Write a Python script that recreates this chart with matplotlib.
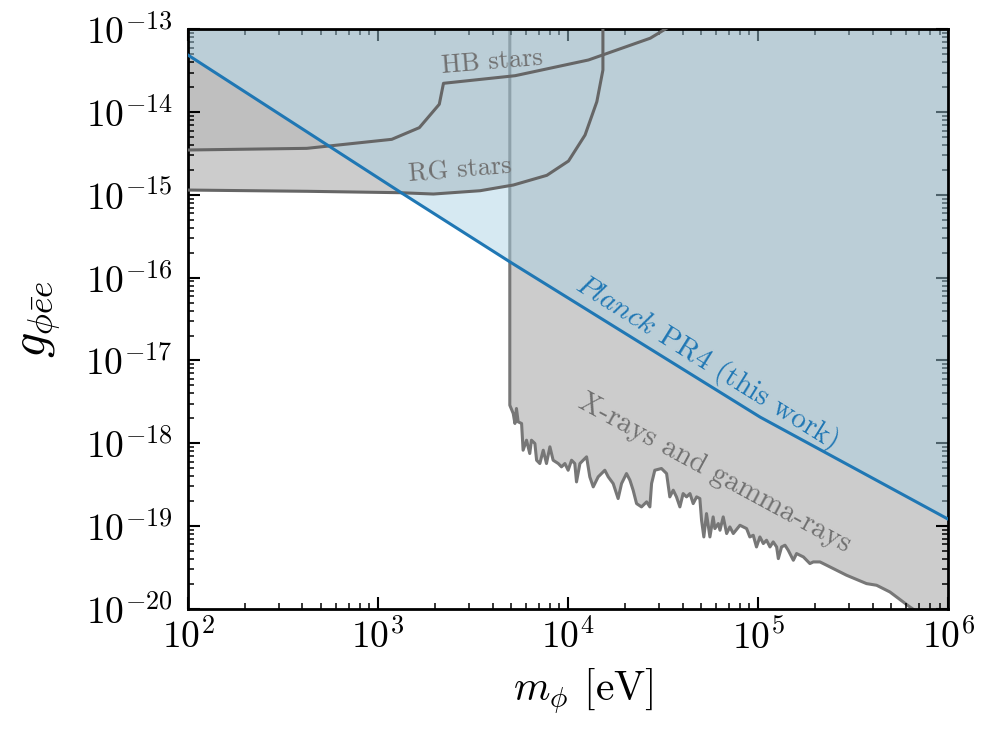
import numpy as np
import matplotlib
matplotlib.use('Agg')
import matplotlib.pyplot as plt
from matplotlib.ticker import LogLocator, NullFormatter

plt.rcParams['font.family'] = 'serif'
plt.rcParams['font.serif'] = ['cmr10']
plt.rcParams['mathtext.fontset'] = 'cm'
plt.rcParams['axes.formatter.use_mathtext'] = True

# all values are log10(m / eV) and log10(g)
planck_logm = [2.0, 3.116, 3.695, 5.011, 6.0]
planck_logg = [-13.31, -14.965, -15.811, -17.686, -18.919]

hb_logm = [2.0, 2.625, 3.072, 3.217, 3.322, 3.344, 3.721, 4.107, 4.432, 4.53]
hb_logg = [-14.457, -14.437, -14.328, -14.187, -13.904, -13.651, -13.559, -13.369, -13.106, -12.97]

rg_logm = [2.0, 2.625, 3.116, 3.291, 3.537, 3.712, 3.888, 4.002, 4.089, 4.151, 4.183, 4.183]
rg_logg = [-14.941, -14.956, -14.973, -14.989, -14.949, -14.880, -14.763, -14.590, -14.276, -13.873, -13.490, -12.9]

xray_logm = [3.693, 3.693, 3.711, 3.720, 3.728, 3.737, 3.755, 3.763, 3.781, 3.798, 3.807,
             3.825, 3.834, 3.851, 3.869, 3.886, 3.904, 3.921, 3.948, 3.965, 3.983,
             4.000, 4.018, 4.035, 4.044, 4.062, 4.079, 4.097, 4.114, 4.132, 4.158,
             4.193, 4.211, 4.237, 4.263, 4.281, 4.307, 4.325, 4.342, 4.360, 4.386,
             4.413, 4.430, 4.439, 4.456, 4.491, 4.518, 4.535, 4.553, 4.570, 4.588,
             4.605, 4.623, 4.641, 4.658, 4.676, 4.693, 4.702, 4.714, 4.728, 4.746,
             4.763, 4.772, 4.790, 4.799, 4.816, 4.834, 4.851, 4.869, 4.904, 4.939,
             4.956, 4.974, 4.991, 5.009, 5.027, 5.044, 5.062, 5.079, 5.097, 5.106,
             5.123, 5.141, 5.158, 5.176, 5.185, 5.202, 5.238, 5.272, 5.290, 5.325,
             5.360, 5.465, 5.570, 5.623, 5.693, 5.798, 6.0]
xray_logg = [-12.9, -17.541, -17.641, -17.762, -17.581, -17.742, -17.762, -18.085, -17.964, -18.125, -17.964,
             -18.004, -18.206, -18.246, -18.085, -18.246, -18.044, -18.206, -18.246, -18.286, -18.246,
             -18.327, -18.206, -18.246, -18.468, -18.246, -18.206, -18.165, -18.407, -18.528, -18.407,
             -18.327, -18.407, -18.488, -18.669, -18.488, -18.367, -18.447, -18.568, -18.730, -18.770,
             -18.709, -18.770, -18.488, -18.327, -18.306, -18.367, -18.649, -18.568, -18.649, -18.770,
             -18.609, -18.649, -18.609, -18.730, -18.649, -18.669, -18.931, -19.133, -18.851, -19.133,
             -18.891, -19.032, -18.971, -19.052, -18.891, -19.092, -19.012, -19.092, -18.992, -19.032,
             -19.133, -19.113, -19.254, -19.133, -19.213, -19.173, -19.254, -19.193, -19.254, -19.395,
             -19.254, -19.233, -19.294, -19.375, -19.415, -19.334, -19.375, -19.455, -19.435, -19.435,
             -19.475, -19.596, -19.697, -19.717, -19.798, -19.979, -20.3]

top = -12.5

pl_m, pl_g = 10**np.array(planck_logm), 10**np.array(planck_logg)
hb_m, hb_g = 10**np.array(hb_logm), 10**np.array(hb_logg)
rg_m, rg_g = 10**np.array(rg_logm), 10**np.array(rg_logg)
xr_m, xr_g = 10**np.array(xray_logm), 10**np.array(xray_logg)

fig, ax = plt.subplots(figsize=(9.95, 7.36), dpi=100)
fig.subplots_adjust(left=0.189, right=0.953, top=0.960, bottom=0.173)

grey = '#cccccc'
# excluded regions (grey)
ax.fill(np.r_[hb_m, hb_m[-1], hb_m[0]], np.r_[hb_g, 10**top, 10**top], color=grey, lw=0, zorder=1)
ax.fill(np.r_[rg_m, rg_m[0]], np.r_[rg_g, 10**top], color=grey, lw=0, zorder=1)
ax.fill(np.r_[xr_m, xr_m[-1]], np.r_[xr_g, 10**top], color=grey, lw=0, zorder=1)

# HB and RG overlap below the Planck line
grid = np.linspace(2.0, 3.3, 500)
hb_i = np.interp(grid, hb_logm, hb_logg)
pl_i = np.interp(grid, planck_logm, planck_logg)
ax.fill_between(10**grid, 10**hb_i, 10**pl_i, where=pl_i > hb_i, interpolate=True,
                color='#bfbfbf', lw=0, zorder=1.2)

ax.plot(xr_m, xr_g, color='#777777', lw=2.2, zorder=1.5)

# Planck bound
ax.fill_between(pl_m, pl_g, 10**top, color='#a8d2e4', alpha=0.47, lw=0, zorder=2)
ax.plot(hb_m, hb_g, color='#666666', lw=2.2, zorder=3)
ax.plot(rg_m, rg_g, color='#666666', lw=2.2, zorder=3)
ax.plot(pl_m, pl_g, color='#1f77b4', lw=2.2, zorder=4)

tc = '#707070'
ax.text(4.0e3, 4.05e-14, 'HB stars', color=tc, fontsize=19, rotation=4.7,
        ha='center', va='center', zorder=5)
ax.text(2.69e3, 2.0e-15, 'RG stars', color=tc, fontsize=19, rotation=4.6,
        ha='center', va='center', zorder=5)
ax.text(5.36e4, 9.5e-18, r'$\mathit{Planck}$ PR4 (this work)', color='#1f77b4', fontsize=21,
        rotation=-32, ha='center', va='center', zorder=5)
ax.text(5.9e4, 4.3e-19, 'X-rays and gamma-rays', color=tc, fontsize=21, rotation=-28.5,
        ha='center', va='center', zorder=5)

ax.set_xscale('log')
ax.set_yscale('log')
ax.set_xlim(1e2, 1e6)
ax.set_ylim(1e-20, 1e-13)

for axis in (ax.xaxis, ax.yaxis):
    axis.set_major_locator(LogLocator(base=10, numticks=20))
    axis.set_minor_locator(LogLocator(base=10, subs=np.arange(2, 10), numticks=100))
    axis.set_minor_formatter(NullFormatter())

ax.tick_params(which='both', direction='in', top=True, right=True)
ax.tick_params(which='major', length=8.5, width=1.5, labelsize=27)
ax.tick_params(which='minor', length=4.5, width=1.1)
ax.tick_params(axis='y', pad=11)
ax.tick_params(axis='x', pad=7)
for s in ax.spines.values():
    s.set_linewidth(2)

ax.set_xlabel(r'$m_\phi$ [eV]', fontsize=30)
ax.xaxis.set_label_coords(0.52, -0.10)
ax.set_ylabel(r'$g_{\phi\bar{e}e}$', fontsize=36)
ax.yaxis.set_label_coords(-0.166, 0.5)

plt.savefig('out.png', dpi=100)
